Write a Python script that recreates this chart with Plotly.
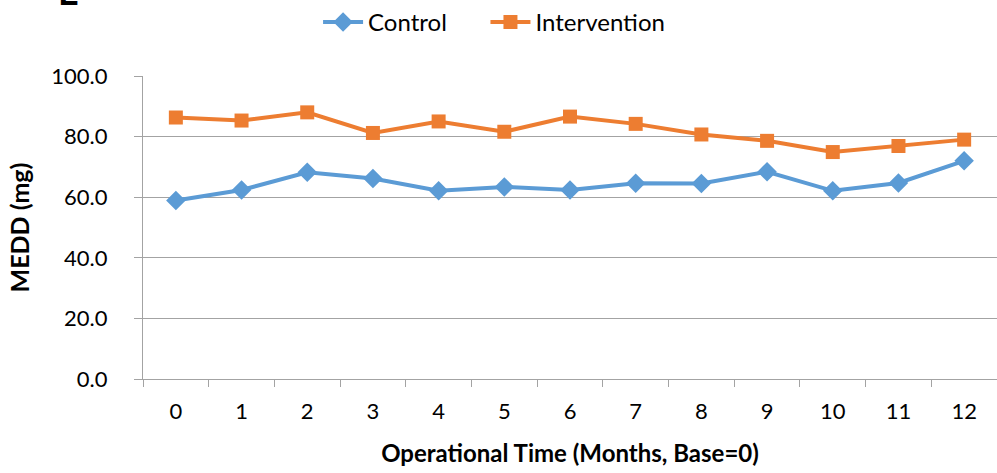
import plotly.graph_objects as go

months = ["0", "1", "2", "3", "4", "5", "6", "7", "8", "9", "10", "11", "12"]
control = [58.9, 62.4, 68.2, 66.2, 62.1, 63.4, 62.4, 64.6, 64.5, 68.4, 62.1, 64.7, 72.0]
intervention = [86.3, 85.3, 88.0, 81.2, 85.0, 81.6, 86.6, 84.2, 80.7, 78.6, 74.9, 76.9, 79.0]
y_ticks = [0, 20, 40, 60, 80, 100]
y_labels = ["0.0", "20.0", "40.0", "60.0", "80.0", "100.0"]

FONT = "Lato, 'Open Sans', sans-serif"
GRID = "#A3A3A3"

fig = go.Figure()
fig.add_trace(go.Scatter(
    x=months, y=control, name="Control", mode="lines+markers",
    line=dict(color="#5B9BD5", width=4),
    marker=dict(symbol="diamond", size=15, color="#5B9BD5"),
    legend="legend",
))
fig.add_trace(go.Scatter(
    x=months, y=intervention, name="Intervention", mode="lines+markers",
    line=dict(color="#ED7D31", width=4),
    marker=dict(symbol="square", size=14, color="#ED7D31"),
    legend="legend2",
))

legend_common = dict(orientation="h", xanchor="left", y=1.178, yanchor="middle",
                     font=dict(size=24), itemwidth=40, bgcolor="rgba(0,0,0,0)")

fig.update_layout(
    width=997, height=473,
    margin=dict(l=143, r=0, t=76, b=94),
    paper_bgcolor="white", plot_bgcolor="white",
    font=dict(family=FONT, size=22, color="black"),
    showlegend=True,
    legend=dict(x=0.205, **legend_common),
    legend2=dict(x=0.401, **legend_common),
    xaxis=dict(
        type="category", tickson="boundaries", ticks="outside", ticklen=7,
        tickcolor=GRID, showline=True, linecolor=GRID, linewidth=1.3,
        showgrid=False, tickfont=dict(size=22), ticklabelstandoff=12,
        range=[-0.5, 12.5], automargin=False,
        title=dict(text="<b>Operational Time (Months, Base=0)</b>",
                   font=dict(size=24), standoff=22),
    ),
    yaxis=dict(
        range=[0, 100], tickvals=y_ticks, ticktext=y_labels,
        ticks="outside", ticklen=8, tickcolor=GRID,
        showline=True, linecolor=GRID, linewidth=1.3,
        showgrid=True, gridcolor=GRID, gridwidth=1.3,
        zeroline=False, tickfont=dict(size=22), ticklabelstandoff=22,
        automargin=False,
        title=dict(text="<b>MEDD (mg)</b>", font=dict(size=25), standoff=14),
    ),
)

fig.add_annotation(
    text="<b>E</b>", xref="paper", yref="paper", x=-0.102, y=1.2,
    xanchor="left", yanchor="bottom", showarrow=False,
    font=dict(size=36, family=FONT, color="black"),
)

fig.write_html("out.html", config={"displayModeBar": False},
               post_script="document.body.style.margin='0px';")
